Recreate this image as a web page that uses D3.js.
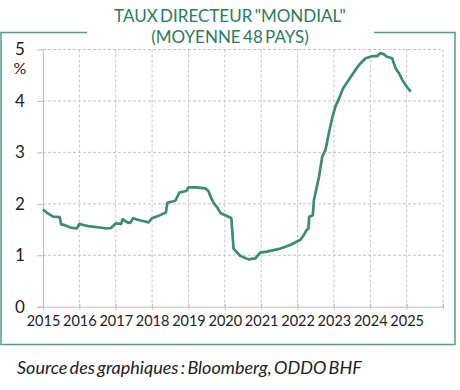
<!DOCTYPE html>
<html>
<head>
<meta charset="utf-8">
<script src="https://cdn.jsdelivr.net/npm/d3@7"></script>
<style>
  body { margin: 0; background: #fff; }
  text { font-family: Lato, "Open Sans", sans-serif; }
</style>
</head>
<body>
<div id="chart"></div>
<script>
// policy rate, "world" average of 48 countries (decimal year, %)
var years = [2015.00, 2015.10, 2015.28, 2015.46, 2015.50, 2015.62, 2015.75, 2015.93,
  2016.00, 2016.15, 2016.30, 2016.55, 2016.75, 2016.87, 2017.00, 2017.15, 2017.19,
  2017.32, 2017.40, 2017.48, 2017.65, 2017.90, 2018.00, 2018.22, 2018.38, 2018.42,
  2018.64, 2018.75, 2018.94, 2019.00, 2019.20, 2019.46, 2019.55, 2019.62, 2019.70,
  2019.80, 2019.88, 2020.13, 2020.18, 2020.24, 2020.42, 2020.65, 2020.84, 2020.97,
  2021.16, 2021.53, 2021.80, 2022.08, 2022.17, 2022.25, 2022.30, 2022.32, 2022.42,
  2022.45, 2022.53, 2022.59, 2022.68, 2022.77, 2022.86, 2022.95, 2023.04, 2023.16,
  2023.25, 2023.41, 2023.55, 2023.69, 2023.87, 2024.05, 2024.19, 2024.28, 2024.37,
  2024.46, 2024.60, 2024.70, 2024.79, 2024.88, 2024.97, 2025.11];
var rates = [1.89, 1.83, 1.75, 1.74, 1.60, 1.58, 1.54, 1.52,
  1.61, 1.58, 1.56, 1.54, 1.52, 1.53, 1.62, 1.61, 1.70,
  1.64, 1.63, 1.72, 1.68, 1.64, 1.72, 1.78, 1.83, 2.02,
  2.06, 2.22, 2.25, 2.32, 2.32, 2.30, 2.25, 2.12, 2.01,
  1.92, 1.82, 1.74, 1.72, 1.13, 0.99, 0.92, 0.94, 1.05,
  1.07, 1.13, 1.20, 1.30, 1.39, 1.49, 1.52, 1.75, 1.78,
  2.07, 2.33, 2.53, 2.92, 3.05, 3.37, 3.66, 3.89, 4.08,
  4.24, 4.41, 4.56, 4.70, 4.83, 4.87, 4.87, 4.93, 4.91,
  4.86, 4.83, 4.63, 4.54, 4.41, 4.31, 4.18];
var yearTicks = [2015, 2016, 2017, 2018, 2019, 2020, 2021, 2022, 2023, 2024, 2025, 2026];
var yearLabels = ["2015", "2016", "2017", "2018", "2019", "2020", "2021", "2022", "2023", "2024", "2025"];
var rateTicks = [0, 1, 2, 3, 4, 5];
var titleLines = ['TAUX DIRECTEUR "MONDIAL"', '(MOYENNE 48 PAYS)'];

var svgWidth = 460;
var svgHeight = 390;

var svg = d3.select("#chart")
  .append("svg")
  .attr("width", svgWidth)
  .attr("height", svgHeight);

var green = "#2b7c5c";
var lineGreen = "#3c8d6e";

// frame, top edge broken by the title
var frame = svg.append("g")
  .attr("stroke", "#4f9e82")
  .attr("stroke-width", 1.5)
  .attr("fill", "none");
frame.append("path")
  .attr("d", "M87,32.5 H1 V344.5 H455 V32.5 H374");

// title
svg.append("g").selectAll("text")
  .data(titleLines)
  .enter()
  .append("text")
  .attr("x", 230)
  .attr("y", (d, i) => 22 + i * 21)
  .attr("text-anchor", "middle")
  .attr("fill", green)
  .attr("font-size", 17)
  .style("word-spacing", "-2px")
  .text(d => d);

var x = d3.scaleLinear().domain([2015, 2026]).range([43, 443]);
var y = d3.scaleLinear().domain([0, 5]).range([306.7, 49.5]);

// grid
var grid = svg.append("g")
  .attr("stroke", "#c4c4c4")
  .attr("stroke-width", 1)
  .attr("stroke-dasharray", "3,2");
grid.selectAll(".hg")
  .data(rateTicks.slice(1))
  .enter()
  .append("line")
  .attr("x1", x(2015))
  .attr("x2", x(2026))
  .attr("y1", d => y(d))
  .attr("y2", d => y(d));
grid.selectAll(".vg")
  .data(yearTicks.slice(1))
  .enter()
  .append("line")
  .attr("x1", d => x(d))
  .attr("x2", d => x(d))
  .attr("y1", y(5))
  .attr("y2", y(0));

// axes
var bottomAxis = d3.axisBottom(x)
  .tickValues(yearTicks)
  .tickSize(3)
  .tickFormat((d, i) => yearLabels[i] || "");
var xAxis = svg.append("g")
  .attr("transform", `translate(0, ${y(0)})`)
  .call(bottomAxis);
xAxis.select(".domain").attr("stroke", "#bfbfbf").attr("d", `M37,0.5 H${x(2026)}`);
xAxis.selectAll(".tick line").attr("stroke", "#bfbfbf").attr("y1", -3);
xAxis.selectAll(".tick text")
  .attr("font-family", "Lato, sans-serif")
  .attr("font-size", 14.5)
  .attr("fill", "#222")
  .attr("dy", "0.9em");

var leftAxis = d3.axisLeft(y)
  .tickValues(rateTicks)
  .tickSize(6)
  .tickPadding(14)
  .tickFormat(d3.format("d"));
var yAxis = svg.append("g")
  .attr("transform", `translate(${x(2015)}, 0)`)
  .call(leftAxis);
yAxis.select(".domain").attr("stroke", "#bfbfbf").attr("d", `M0.5,${y(5)} V${y(0)}`);
yAxis.selectAll(".tick line").attr("stroke", "#bfbfbf");
yAxis.selectAll(".tick text")
  .attr("font-family", "Lato, sans-serif")
  .attr("font-size", 17)
  .attr("fill", "#222")
  .attr("text-anchor", "middle")
  .attr("x", -23);

svg.append("text")
  .attr("x", 20)
  .attr("y", y(5) + 24)
  .attr("text-anchor", "middle")
  .attr("font-size", 16)
  .attr("fill", "#222")
  .text("%");

// the series
var points = years.map((d, i) => [d, rates[i]]);
var line = d3.line()
  .x(d => x(d[0]))
  .y(d => y(d[1]));
svg.append("path")
  .datum(points)
  .attr("d", line)
  .attr("fill", "none")
  .attr("stroke", lineGreen)
  .attr("stroke-width", 2.7)
  .attr("stroke-linejoin", "round");

// source note
svg.append("text")
  .attr("x", 17)
  .attr("y", 374)
  .attr("font-size", 18)
  .attr("font-style", "italic")
  .attr("fill", "#222")
  .style("word-spacing", "-2px")
  .text("Source des graphiques : Bloomberg, ODDO BHF");
</script>
</body>
</html>
